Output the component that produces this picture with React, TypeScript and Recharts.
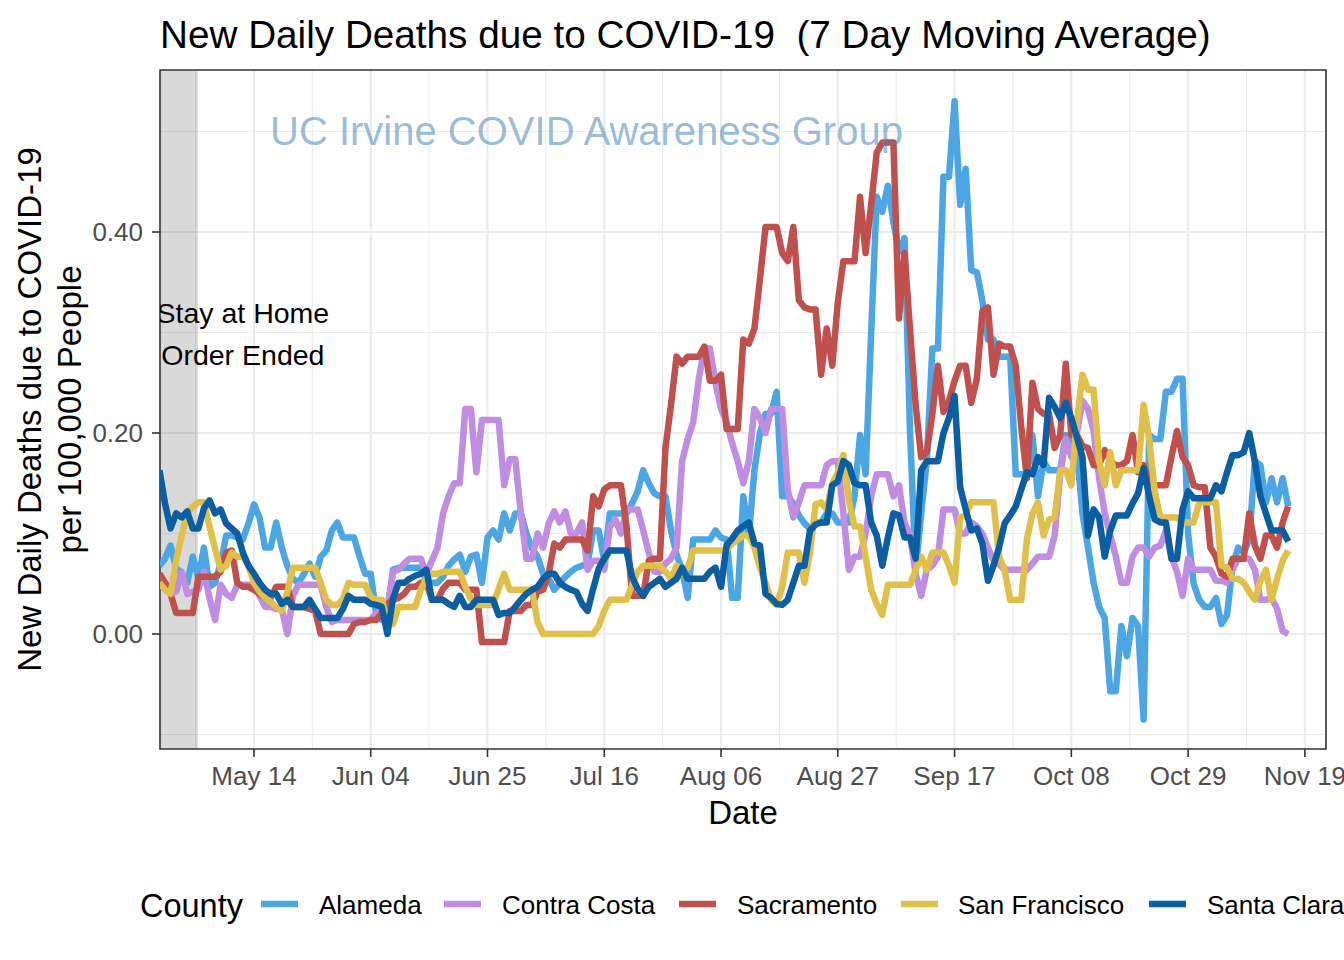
import React from 'react';
import { LineChart, Line, XAxis, YAxis, CartesianGrid, ReferenceArea, ReferenceDot } from 'recharts';

// Day index 0 = 2020-04-27 (last point = 2020-11-16)
const startDate = '2020-04-27';

const counties = ['Alameda', 'Contra Costa', 'Sacramento', 'San Francisco', 'Santa Clara'];
const countyColors = ['#4BA6E3', '#BF8DE1', '#C0504D', '#E0C04A', '#0B5EA2'];

const alameda = [
  0.068, 0.075, 0.088, 0.066, 0.06, 0.051, 0.077, 0.055, 0.086, 0.047,
  0.051, 0.07, 0.098, 0.098, 0.096, 0.094, 0.11, 0.129, 0.116, 0.086,
  0.086, 0.111, 0.086, 0.068, 0.055, 0.051, 0.06, 0.07, 0.057, 0.077,
  0.083, 0.103, 0.111, 0.096, 0.096, 0.096, 0.077, 0.06, 0.06, 0.019,
  0.014, 0.014, 0.064, 0.066, 0.066, 0.066, 0.066, 0.066, 0.053, 0.051,
  0.051, 0.057, 0.068, 0.074, 0.079, 0.062, 0.077, 0.079, 0.051, 0.096,
  0.103, 0.094, 0.12, 0.103, 0.12, 0.12, 0.1, 0.085, 0.077, 0.06,
  0.055, 0.044, 0.05, 0.057, 0.062, 0.066, 0.068, 0.07, 0.103, 0.103,
  0.073, 0.12, 0.12, 0.12, 0.12, 0.13, 0.142, 0.163, 0.15, 0.14,
  0.137, 0.137, 0.103, 0.079, 0.064, 0.036, 0.094, 0.094, 0.094, 0.094,
  0.103, 0.096, 0.094, 0.036, 0.036, 0.137, 0.098, 0.163, 0.2, 0.219,
  0.219, 0.241, 0.137, 0.137, 0.13, 0.118, 0.11, 0.105, 0.111, 0.111,
  0.12, 0.12, 0.111, 0.111, 0.111, 0.137, 0.198, 0.159, 0.3, 0.435,
  0.42, 0.446, 0.41, 0.38, 0.394, 0.2, 0.064, 0.12, 0.172, 0.284,
  0.284, 0.455, 0.455, 0.53, 0.427, 0.463, 0.362, 0.36, 0.332, 0.293,
  0.293, 0.276, 0.276, 0.276, 0.159, 0.159, 0.159, 0.198, 0.137, 0.172,
  0.163, 0.163, 0.163, 0.198, 0.19, 0.181, 0.12, 0.086, 0.051, 0.027,
  0.016, -0.057, -0.057, 0.008, -0.022, 0.016, 0.008, -0.085, 0.198, 0.194,
  0.194, 0.241, 0.241, 0.254, 0.254, 0.1, 0.05, 0.034, 0.027, 0.027,
  0.036, 0.01, 0.019, 0.068, 0.086, 0.081, 0.094, 0.172, 0.168, 0.131,
  0.155, 0.131, 0.155, 0.127,
];

const contraCosta = [
  0.049, 0.049, 0.049, 0.042, 0.062, 0.04, 0.042, 0.044, 0.062, 0.036,
  0.014, 0.049, 0.04, 0.036, 0.049, 0.049, 0.049, 0.049, 0.038, 0.027,
  0.027, 0.025, 0.025, 0.0, 0.038, 0.049, 0.049, 0.049, 0.049, 0.049,
  0.027, 0.012, 0.014, 0.014, 0.014, 0.014, 0.014, 0.014, 0.014, 0.021,
  0.025, 0.027, 0.062, 0.064, 0.07, 0.075, 0.075, 0.075, 0.06, 0.073,
  0.086, 0.12, 0.137, 0.15, 0.15, 0.224, 0.224, 0.161, 0.213, 0.213,
  0.213, 0.213, 0.148, 0.174, 0.174, 0.12, 0.075, 0.075, 0.1, 0.086,
  0.11, 0.122, 0.111, 0.122, 0.1, 0.1, 0.111, 0.064, 0.073, 0.073,
  0.064, 0.107, 0.114, 0.1, 0.124, 0.124, 0.124, 0.103, 0.081, 0.062,
  0.062, 0.07, 0.075, 0.086, 0.172, 0.194, 0.211, 0.254, 0.284, 0.284,
  0.25, 0.224, 0.211, 0.19, 0.172, 0.15, 0.172, 0.224, 0.215, 0.2,
  0.224, 0.224, 0.224, 0.144, 0.116, 0.131, 0.148, 0.148, 0.148, 0.148,
  0.168, 0.172, 0.172, 0.12, 0.064, 0.077, 0.077, 0.1, 0.137, 0.159,
  0.159, 0.159, 0.137, 0.148, 0.111, 0.098, 0.06, 0.038, 0.064, 0.068,
  0.077, 0.124, 0.124, 0.124, 0.1, 0.1, 0.111, 0.107, 0.1, 0.086,
  0.073, 0.07, 0.064, 0.064, 0.064, 0.064, 0.064, 0.07, 0.077, 0.077,
  0.077, 0.098, 0.159, 0.194, 0.176, 0.2, 0.232, 0.224, 0.202, 0.155,
  0.12, 0.098, 0.077, 0.051, 0.051, 0.077, 0.086, 0.086, 0.077, 0.086,
  0.088, 0.103, 0.077, 0.062, 0.038, 0.075, 0.064, 0.064, 0.064, 0.064,
  0.053, 0.053, 0.051, 0.064, 0.075, 0.075, 0.075, 0.064, 0.034, 0.034,
  0.036, 0.025, 0.003, 0.0,
];

const sacramento = [
  0.06, 0.051, 0.04, 0.021, 0.021, 0.021, 0.021, 0.057, 0.057, 0.057,
  0.057, 0.062, 0.081, 0.083, 0.051, 0.047, 0.047, 0.044, 0.04, 0.036,
  0.036, 0.047, 0.047, 0.047, 0.027, 0.027, 0.027, 0.025, 0.023, 0.0,
  0.0, 0.0, 0.0, 0.0, 0.0, 0.01, 0.012, 0.012, 0.014, 0.014,
  0.021, 0.03, 0.034, 0.036, 0.04, 0.047, 0.047, 0.051, 0.051, 0.034,
  0.034, 0.045, 0.051, 0.051, 0.051, 0.044, 0.044, 0.044, -0.008, -0.008,
  -0.008, -0.008, -0.008, 0.023, 0.023, 0.023, 0.029, 0.029, 0.042, 0.044,
  0.06, 0.09, 0.086, 0.094, 0.094, 0.094, 0.094, 0.083, 0.137, 0.127,
  0.144, 0.148, 0.148, 0.148, 0.107, 0.038, 0.038, 0.038, 0.073, 0.075,
  0.075, 0.185, 0.228, 0.276, 0.269, 0.276, 0.276, 0.276, 0.286, 0.252,
  0.252, 0.258, 0.204, 0.204, 0.204, 0.293, 0.289, 0.304, 0.353, 0.405,
  0.405, 0.405, 0.379, 0.371, 0.405, 0.332, 0.325, 0.323, 0.323, 0.258,
  0.304, 0.267, 0.33, 0.371, 0.371, 0.371, 0.435, 0.379, 0.427, 0.479,
  0.489, 0.489, 0.489, 0.314, 0.379, 0.302, 0.228, 0.176, 0.181, 0.219,
  0.267, 0.221, 0.232, 0.252, 0.267, 0.267, 0.23, 0.254, 0.321, 0.325,
  0.258, 0.289, 0.286, 0.286, 0.267, 0.206, 0.155, 0.25, 0.224, 0.219,
  0.219, 0.185, 0.198, 0.269, 0.198, 0.198, 0.187, 0.185, 0.168, 0.168,
  0.183, 0.172, 0.168, 0.168, 0.172, 0.198, 0.161, 0.168, 0.15, 0.148,
  0.148, 0.148, 0.176, 0.202, 0.176, 0.168, 0.148, 0.146, 0.146, 0.086,
  0.077, 0.06, 0.057, 0.075, 0.075, 0.075, 0.12, 0.088, 0.075, 0.098,
  0.098, 0.086, 0.111, 0.127,
];

const sanFrancisco = [
  0.051, 0.044, 0.04, 0.073, 0.098, 0.12, 0.127, 0.131, 0.131, 0.107,
  0.085, 0.064, 0.068, 0.081, 0.077, 0.077, 0.068, 0.051, 0.042, 0.036,
  0.032, 0.027, 0.023, 0.042, 0.066, 0.066, 0.066, 0.066, 0.066, 0.051,
  0.034, 0.029, 0.029, 0.035, 0.051, 0.049, 0.049, 0.049, 0.036, 0.034,
  0.034, 0.012, 0.01, 0.027, 0.027, 0.027, 0.027, 0.044, 0.055, 0.06,
  0.06, 0.062, 0.062, 0.062, 0.062, 0.047, 0.035, 0.029, 0.029, 0.029,
  0.029, 0.045, 0.06, 0.044, 0.044, 0.044, 0.044, 0.044, 0.012, 0.0,
  0.0, 0.0, 0.0, 0.0, 0.0, 0.0, 0.0, 0.0, 0.0, 0.008,
  0.023, 0.034, 0.034, 0.034, 0.034, 0.049, 0.062, 0.068, 0.068, 0.068,
  0.068, 0.062, 0.055, 0.068, 0.06, 0.066, 0.083, 0.083, 0.083, 0.083,
  0.083, 0.083, 0.083, 0.09, 0.094, 0.098, 0.098, 0.086, 0.066, 0.051,
  0.034, 0.029, 0.047, 0.081, 0.081, 0.081, 0.051, 0.081, 0.129, 0.131,
  0.124, 0.15, 0.16, 0.178, 0.133, 0.107, 0.107, 0.077, 0.044, 0.03,
  0.019, 0.049, 0.049, 0.049, 0.049, 0.049, 0.064, 0.077, 0.064, 0.081,
  0.081, 0.081, 0.068, 0.051, 0.116, 0.118, 0.131, 0.131, 0.131, 0.131,
  0.131, 0.077, 0.064, 0.034, 0.034, 0.034, 0.094, 0.12, 0.131, 0.098,
  0.114, 0.116, 0.163, 0.163, 0.148, 0.211, 0.258, 0.243, 0.243, 0.172,
  0.148, 0.181, 0.148, 0.163, 0.163, 0.163, 0.163, 0.228, 0.194, 0.142,
  0.116, 0.116, 0.116, 0.116, 0.111, 0.111, 0.111, 0.131, 0.131, 0.131,
  0.131, 0.068, 0.066, 0.055, 0.055, 0.051, 0.042, 0.034, 0.053, 0.064,
  0.034, 0.055, 0.073, 0.083,
];

const santaClara = [
  0.163, 0.13, 0.105, 0.12, 0.116, 0.122, 0.105, 0.105, 0.125, 0.133,
  0.12, 0.124, 0.11, 0.105, 0.1, 0.081, 0.068, 0.06, 0.051, 0.044,
  0.04, 0.04, 0.03, 0.034, 0.027, 0.027, 0.027, 0.034, 0.025, 0.016,
  0.016, 0.016, 0.016, 0.025, 0.038, 0.034, 0.034, 0.034, 0.03, 0.029,
  0.027, 0.0, 0.035, 0.051, 0.051, 0.055, 0.058, 0.06, 0.064, 0.034,
  0.034, 0.034, 0.03, 0.027, 0.038, 0.027, 0.027, 0.034, 0.034, 0.034,
  0.034, 0.019, 0.021, 0.021, 0.027, 0.034, 0.04, 0.044, 0.047, 0.055,
  0.06, 0.06, 0.051, 0.047, 0.044, 0.042, 0.03, 0.023, 0.045, 0.065,
  0.075, 0.083, 0.083, 0.083, 0.083, 0.057, 0.045, 0.038, 0.047, 0.051,
  0.055, 0.047, 0.051, 0.055, 0.066, 0.055, 0.055, 0.055, 0.055, 0.062,
  0.066, 0.047, 0.088, 0.095, 0.103, 0.107, 0.111, 0.09, 0.088, 0.04,
  0.036, 0.03, 0.029, 0.034, 0.051, 0.068, 0.068, 0.103, 0.109, 0.111,
  0.111, 0.148, 0.152, 0.172, 0.168, 0.15, 0.148, 0.148, 0.111, 0.098,
  0.068, 0.096, 0.12, 0.118, 0.096, 0.096, 0.075, 0.163, 0.172, 0.172,
  0.172, 0.2, 0.215, 0.237, 0.146, 0.124, 0.103, 0.105, 0.09, 0.053,
  0.068, 0.086, 0.11, 0.118, 0.127, 0.144, 0.161, 0.159, 0.176, 0.168,
  0.235, 0.226, 0.215, 0.23, 0.215, 0.196, 0.176, 0.098, 0.124, 0.116,
  0.077, 0.103, 0.118, 0.118, 0.118, 0.13, 0.14, 0.165, 0.137, 0.114,
  0.111, 0.111, 0.075, 0.075, 0.124, 0.142, 0.135, 0.135, 0.135, 0.135,
  0.148, 0.142, 0.161, 0.178, 0.178, 0.181, 0.2, 0.172, 0.137, 0.12,
  0.103, 0.103, 0.103, 0.092,
];

const seriesValues = [alameda, contraCosta, sacramento, sanFrancisco, santaClara];

// x ticks (day index from start date) and their labels
const xTickDays = [17, 38, 59, 80, 101, 122, 143, 164, 185, 206];
const xTickLabels = ['May 14', 'Jun 04', 'Jun 25', 'Jul 16', 'Aug 06', 'Aug 27', 'Sep 17', 'Oct 08', 'Oct 29', 'Nov 19'];
const xMinorDays = [6.5, 27.5, 48.5, 69.5, 90.5, 111.5, 132.5, 153.5, 174.5, 195.5];
const yTicks = [0, 0.2, 0.4];
const yTickLabels = ['0.00', '0.20', '0.40'];
const yMinor = [-0.1, 0.1, 0.3, 0.5];

const stayHomeEndDay = 6.9;

const X_DOMAIN: [number, number] = [0.1, 209.8];
const Y_DOMAIN: [number, number] = [-0.1144, 0.5612];

const rows = alameda.map((_, i) => {
  const r: any = { day: i };
  counties.forEach((c, k) => { r[c] = seriesValues[k][i]; });
  return r;
});

const FONT = '"Liberation Sans", Arial, Helvetica, sans-serif';

const textShape = (lines: string[], size: number, fill: string, opacity: number, lineGap: number) => (props: any) => {
  const { cx, cy } = props;
  const id = 'panelclip-' + lines[0].replace(/\W/g, '');
  return (
    <g>
      <defs>
        <clipPath id={id}>
          <rect x={160} y={70} width={1166} height={679} />
        </clipPath>
      </defs>
      <g clipPath={'url(#' + id + ')'}>
        {lines.map((t, i) => (
          <text key={i} x={cx} y={cy + (i - (lines.length - 1) / 2) * lineGap} textAnchor="middle"
            dominantBaseline="central" fontSize={size} fill={fill} fillOpacity={opacity} fontFamily={FONT}>
            {t}
          </text>
        ))}
      </g>
    </g>
  );
};

const legendKeyX = [261, 444, 679, 901, 1149];
const legendTextX = [319, 502, 737, 958, 1207];

export default function App() {
  return (
    <div style={{ position: 'absolute', left: 0, top: 0, width: 1344, height: 960, background: '#fff', fontFamily: FONT }}>
      <LineChart width={1344} height={960} data={rows} margin={{ top: 70, right: 18, bottom: 151, left: 90 }}>
        <CartesianGrid stroke="#EBEBEB" strokeWidth={1.1} horizontalValues={yMinor} verticalValues={xMinorDays} />
        <CartesianGrid stroke="#EBEBEB" strokeWidth={2.2} horizontalValues={yTicks} verticalValues={xTickDays} />
        <XAxis dataKey="day" type="number" domain={X_DOMAIN} allowDataOverflow ticks={xTickDays} interval={0}
          tickFormatter={(v: number) => xTickLabels[xTickDays.indexOf(v)]} height={60} tickSize={8} tickMargin={10}
          tick={{ fill: '#4D4D4D', fontSize: 26 }} tickLine={{ stroke: '#333333', strokeWidth: 1.6 }} axisLine={false} />
        <YAxis type="number" domain={Y_DOMAIN} allowDataOverflow ticks={yTicks} interval={0}
          tickFormatter={(v: number) => yTickLabels[yTicks.indexOf(v)]} width={70} tickSize={8} tickMargin={9}
          tick={{ fill: '#4D4D4D', fontSize: 26 }} tickLine={{ stroke: '#333333', strokeWidth: 1.6 }} axisLine={false} />
        {counties.map((c, k) => (
          <Line key={c} type="linear" dataKey={c} stroke={countyColors[k]} strokeWidth={6.5} dot={false}
            activeDot={false} isAnimationActive={false} strokeLinejoin="round" />
        ))}
        <ReferenceArea x1={X_DOMAIN[0]} x2={stayHomeEndDay} y1={Y_DOMAIN[0]} y2={Y_DOMAIN[1]} fill="#000" fillOpacity={0.15} stroke="none" />
        <ReferenceDot x={76.8} y={0.5005} r={0} shape={textShape(['UC Irvine COVID Awareness Group'], 40, '#4682B4', 0.55, 0)} />
        <ReferenceDot x={15.0} y={0.2985} r={0} shape={textShape(['Stay at Home', 'Order Ended'], 28.5, '#000', 1, 42)} />
        <ReferenceArea x1={X_DOMAIN[0]} x2={X_DOMAIN[1]} y1={Y_DOMAIN[0]} y2={Y_DOMAIN[1]} fill="none" stroke="#333333" strokeWidth={1.6} />
      </LineChart>
      <svg width={1344} height={960} style={{ position: 'absolute', left: 0, top: 0, pointerEvents: 'none' }} fontFamily={FONT}>
        <text x={160} y={48} fontSize={38.7} fill="#000" style={{ whiteSpace: 'pre' }}>
          {'New Daily Deaths due to COVID-19  (7 Day Moving Average)'}
        </text>
        <text transform="translate(29,409.5) rotate(-90)" textAnchor="middle" dominantBaseline="central" fontSize={33} fill="#000">
          New Daily Deaths due to COVID-19
        </text>
        <text transform="translate(69.5,409.5) rotate(-90)" textAnchor="middle" dominantBaseline="central" fontSize={33} fill="#000">
          per 100,000 People
        </text>
        <text x={743} y={824} textAnchor="middle" fontSize={33} fill="#000">Date</text>
        <text x={140} y={917} fontSize={32.5} fill="#000">County</text>
        {counties.map((c, k) => (
          <g key={c}>
            <line x1={legendKeyX[k]} x2={legendKeyX[k] + 37} y1={904} y2={904} stroke={countyColors[k]} strokeWidth={6.5} />
            <text x={legendTextX[k]} y={914} fontSize={26} fill="#000">{c}</text>
          </g>
        ))}
      </svg>
    </div>
  );
}
